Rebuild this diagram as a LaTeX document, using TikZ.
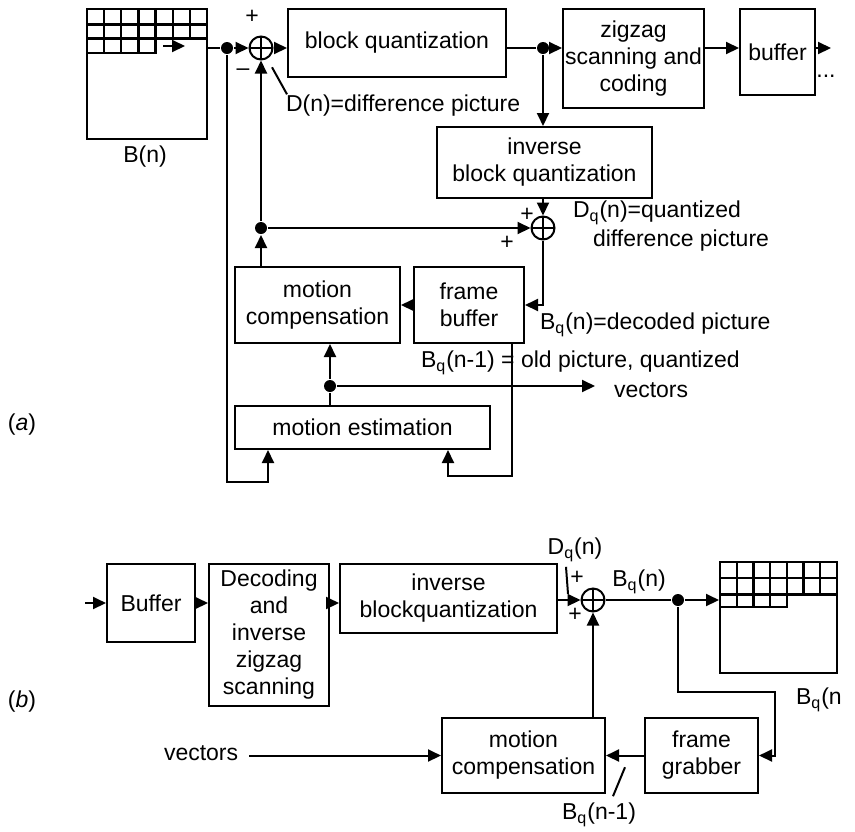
\documentclass[tikz,border=0pt]{standalone}
\usepackage{fontspec}
\setmainfont{Liberation Sans}
\usetikzlibrary{arrows.meta}
\begin{document}
\begin{tikzpicture}[x=0.5pt,y=-0.5pt,line width=1pt,
 txt/.style={inner sep=0pt,font=\fontsize{11.5}{13.5}\selectfont},
 blk/.style={draw,align=center,inner sep=1pt,font=\fontsize{11.5}{13.5}\selectfont},
 sumj/.style={draw,circle,inner sep=0pt,minimum size=11.5pt,
  path picture={\draw (path picture bounding box.north)--(path picture bounding box.south)
   (path picture bounding box.west)--(path picture bounding box.east);}},
 jdot/.style={circle,fill,inner sep=0pt,minimum size=6pt},
 arr/.style={-{Triangle[length=6.5pt,width=6pt]}}]%
% (a) coder
\useasboundingbox (0,0) rectangle (855,831);
\node[draw,inner sep=0pt,minimum width=60pt,minimum height=65pt] (picA) at (147,74) {};
\draw[line width=1.2pt] (87,24.5)--(207,24.5) (87,38.5)--(207,38.5) (87,53)--(155.6,53)--(155.6,38.5);
\foreach \k in {1,...,6} \draw[line width=1.2pt] (87+17.14*\k,9)--(87+17.14*\k,38.5);
\foreach \k in {1,...,3} \draw[line width=1.2pt] (87+17.14*\k,38.5)--(87+17.14*\k,53);
\draw[arr] (163,46)--(185,46);
\node[txt] (bnA) at (145,157) {B(n)};
\node[jdot] (d1) at (227,48) {};
\node[sumj] (s1) at (261,48) {};
\node[txt] (plA) at (252,17) {+};
\node[txt] (miA) at (243,72) {\textendash};
\node[blk,minimum width=109pt,minimum height=34pt] (bq) at (397,43) {block quantization};
\node[jdot] (d2) at (543,48) {};
\node[blk,minimum width=70.5pt,minimum height=49.5pt] (zz) at (633.5,58.5) {zigzag\\scanning and\\coding};
\node[blk,minimum width=37.5pt,minimum height=43pt] (buf) at (777.5,52) {buffer};
\coordinate (out) at (831,48);
\node[txt] (dots) at (826,76) {...};
\node[txt,anchor=west] (dlab) at (285,106) {D(n)=difference picture};
\node[blk,minimum width=107.5pt,minimum height=35.5pt] (ibq) at (544.5,162.5) {inverse\\block quantization};
\node[sumj] (s2) at (543,228) {};
\node[txt] (plB) at (527,215) {+};
\node[txt] (plC) at (507,243) {+};
\node[txt,anchor=west] (dqA) at (572,213) {D\textsubscript{q}(n)=quantized};
\node[txt,anchor=west] (dqB) at (592,241) {difference picture};
\node[jdot] (d3) at (261,228) {};
\node[blk,minimum width=82.5pt,minimum height=38pt] (mc) at (317.5,305) {motion\\compensation};
\node[blk,minimum width=55pt,minimum height=38pt] (fb) at (469,305) {frame\\buffer};
\node[txt,anchor=west] (bqlab) at (539,325) {B\textsubscript{q}(n)=decoded picture};
\node[txt,anchor=west] (oldlab) at (420,363) {B\textsubscript{q}(n-1) = old picture, quantized};
\node[txt,anchor=west] (veclab) at (613,390) {vectors};
\node[jdot] (d4) at (330,386) {};
\coordinate (vecA) at (595,386);
\node[blk,minimum width=127.5pt,minimum height=21.5pt] (me) at (362.5,427.5) {motion estimation};
\coordinate (loopA) at (268,482);
\coordinate (tapB) at (512,476);
\coordinate (loopB) at (448,476);
\node[txt] (labA) at (22,425) {(\textit{a})};
\draw (d1 -| picA.east) -- (d1);
\draw[arr] (d1) -- (s1);
\draw[arr] (s1) -- (s1 -| bq.west);
\draw (bq.east |- d2) -- (d2);
\draw[arr] (d2) -- (d2 -| zz.west);
\draw[arr] (zz.east |- d2) -- (d2 -| buf.west);
\draw[arr] (d2 -| buf.east) -- (out);
\draw[arr] (d2) -- (d2 |- ibq.north);
\draw[arr] (ibq.south -| s2) -- (s2);
\draw ([shift={(2,0)}]dlab.north west) -- ++(-15,-27);
\draw[arr] (d3) -- (s2);
\draw[arr] (s2) |- (fb.east);
\draw[arr] (fb) -- (mc);
\draw[arr] (mc.north -| d3) -- (d3);
\draw[arr] (d3) -- (s1);
\draw[arr] (d1) |- (loopA) -- (loopA |- me.south);
\draw[arr] (tapB |- fb.south) -- (tapB) -- (loopB) -- (loopB |- me.south);
\draw (me.north -| d4) -- (d4);
\draw[arr] (d4) -- (d4 |- mc.south);
\draw[arr] (d4) -- (vecA);
% (b) decoder
\coordinate (inB) at (85,603);
\node[blk,minimum width=44pt,minimum height=39pt] (bufB) at (151,603) {Buffer};
\node[blk,minimum width=60pt,minimum height=71pt] (dec) at (269,635) {Decoding\\and\\inverse\\zigzag\\scanning};
\node[blk,minimum width=108.5pt,minimum height=34.5pt] (ibqB) at (448.5,598.5) {inverse\\blockquantization};
\node[sumj] (s3) at (593,600) {};
\node[txt] (plD) at (577,578) {+};
\node[txt] (plE) at (575,615) {+};
\node[txt] (dqC) at (575,550) {D\textsubscript{q}(n)};
\node[txt] (bqB) at (639,582) {B\textsubscript{q}(n)};
\node[jdot] (d5) at (678,600) {};
\node[draw,inner sep=0pt,minimum width=58.5pt,minimum height=55.5pt] (picB) at (778.5,617.5) {};
\draw[line width=1.2pt] (720,578)--(837,578) (720,594.5)--(837,594.5) (720,607)--(786.9,607)--(786.9,594.5);
\foreach \k in {1,...,6} \draw[line width=1.2pt] (720+16.71*\k,562)--(720+16.71*\k,594.5);
\foreach \k in {1,...,3} \draw[line width=1.2pt] (720+16.71*\k,594.5)--(720+16.71*\k,607);
\node[txt,anchor=west] (bqC) at (795,700) {B\textsubscript{q}(n};
\coordinate (loopC) at (775,692);
\node[blk,minimum width=56.5pt,minimum height=37.5pt] (fg) at (701.5,755.5) {frame\\grabber};
\node[blk,minimum width=81.5pt,minimum height=37.5pt] (mcB) at (523.5,755.5) {motion\\compensation};
\node[txt,anchor=west] (vecB) at (163,753) {vectors};
\node[txt] (oldB) at (599,815) {B\textsubscript{q}(n-1)};
\node[txt] (labB) at (22,702) {(\textit{b})};
\draw[arr] (inB) -- (bufB);
\draw[arr] (bufB) -- (bufB -| dec.west);
\draw[arr] (bufB -| dec.east) -- (bufB -| ibqB.west);
\draw[arr] (s3 -| ibqB.east) -- (s3);
\draw ([shift={(-9,4)}]dqC.south) -- ++(2,27);
\draw (s3) -- (d5);
\draw[arr] (d5) -- (d5 -| picB.west);
\draw[arr] (d5) |- (loopC) |- (fg.east);
\draw[arr] (fg) -- (mcB);
\draw ([shift={(14,-6)}]oldB.north) -- ++(12,-29);
\draw[arr] (mcB.north -| s3) -- (s3);
\draw[arr] ([xshift=5pt]vecB.east |- mcB.west) -- (mcB.west);
\end{tikzpicture}
\end{document}
